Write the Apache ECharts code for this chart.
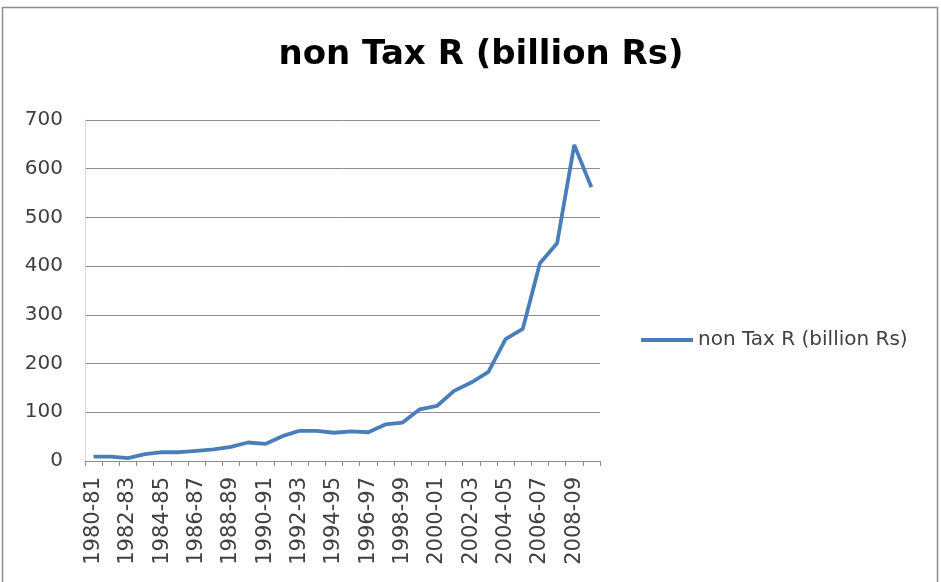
<!DOCTYPE html>
<html>
<head>
<meta charset="utf-8">
<script src="https://cdn.jsdelivr.net/npm/echarts@6/dist/echarts.min.js"></script>
<style>
  html, body { margin: 0; padding: 0; background: #ffffff; }
  #chart { width: 941px; height: 582px; }
</style>
</head>
<body>
<div id="chart"></div>
<script>
// Fiscal years on the category axis
const years = [
  '1980-81','1981-82','1982-83','1983-84','1984-85','1985-86','1986-87','1987-88',
  '1988-89','1989-90','1990-91','1991-92','1992-93','1993-94','1994-95','1995-96',
  '1996-97','1997-98','1998-99','1999-00','2000-01','2001-02','2002-03','2003-04',
  '2004-05','2005-06','2006-07','2007-08','2008-09','2009-10'
];

// Non-tax revenue, billion Rs
const nonTaxRevenue = [
  9, 9, 6, 14, 18, 18, 21, 24, 29, 38,
  35, 51, 62, 62, 58, 61, 59, 75, 79, 106,
  113, 144, 161, 183, 250, 271, 406, 447, 649, 562
];

const seriesName = 'non Tax R (billion Rs)';
const yTicks = { min: 0, max: 700, step: 100 };

const chart = echarts.init(document.getElementById('chart'), null, { renderer: 'canvas' });

const textFont = '"DejaVu Sans", "Liberation Sans", sans-serif';

chart.setOption({
  backgroundColor: '#ffffff',
  animation: false,
  graphic: [{
    type: 'rect',
    shape: { x: 2.5, y: 7.5, width: 935, height: 600 },
    style: { fill: 'none', stroke: '#8c8c8c', lineWidth: 1.5 },
    silent: true
  }],
  title: {
    text: seriesName,
    left: 476,
    textAlign: 'center',
    top: 33,
    textStyle: {
      fontFamily: textFont,
      fontWeight: 'bold',
      fontSize: 34,
      color: '#000000'
    }
  },
  legend: {
    data: [seriesName],
    left: 641,
    top: 330,
    padding: 0,
    itemWidth: 52,
    itemHeight: 4,
    itemGap: 4,
    icon: 'rect',
    textStyle: {
      fontFamily: textFont,
      fontSize: 20,
      color: '#404040'
    }
  },
  grid: {
    left: 85,
    right: 341,
    top: 120,
    bottom: 121,
    containLabel: false
  },
  xAxis: {
    type: 'category',
    data: years,
    boundaryGap: true,
    axisLine: { show: true, lineStyle: { color: '#8c8c8c', width: 1 } },
    axisTick: {
      show: true,
      alignWithLabel: false,
      interval: 0,
      length: 5,
      lineStyle: { color: '#8c8c8c' }
    },
    axisLabel: {
      interval: 1,
      rotate: 90,
      margin: 16,
      fontFamily: textFont,
      fontSize: 21,
      color: '#404040'
    },
    splitLine: { show: false }
  },
  yAxis: {
    type: 'value',
    min: yTicks.min,
    max: yTicks.max,
    interval: yTicks.step,
    axisLine: { show: true, lineStyle: { color: '#d9d9d9', width: 1 } },
    axisTick: { show: false },
    axisLabel: {
      margin: 22,
      fontFamily: textFont,
      fontSize: 20,
      color: '#404040'
    },
    splitLine: { show: true, lineStyle: { color: '#8c8c8c', width: 1 } }
  },
  series: [{
    name: seriesName,
    type: 'line',
    data: nonTaxRevenue,
    symbol: 'none',
    smooth: false,
    lineStyle: { color: '#4a7ebb', width: 3.8 },
    itemStyle: { color: '#4a7ebb' }
  }]
});
</script>
</body>
</html>
